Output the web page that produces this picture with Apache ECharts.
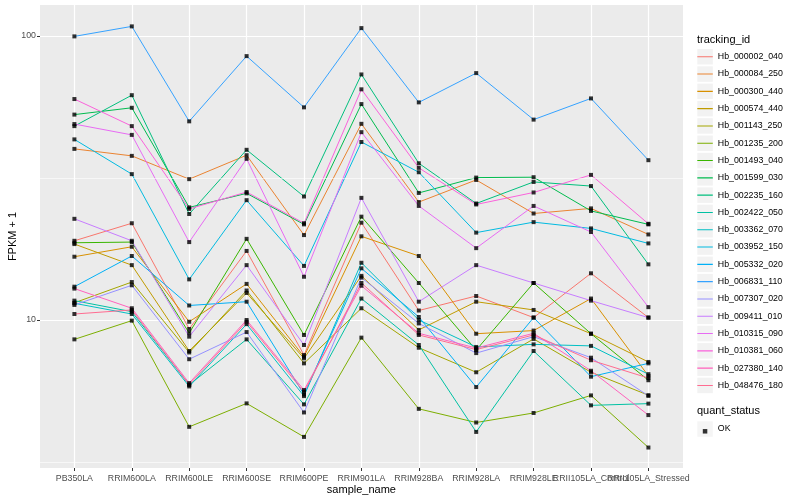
<!DOCTYPE html>
<html>
<head>
<meta charset="utf-8">
<script src="https://cdn.jsdelivr.net/npm/echarts@6/dist/echarts.min.js"></script>
<style>html,body{margin:0;padding:0;background:#fff;}#c{width:800px;height:500px;}</style>
</head>
<body>
<div id="c"></div>
<script>
const categories = ["PB350LA","RRIM600LA","RRIM600LE","RRIM600SE","RRIM600PE","RRIM901LA","RRIM928BA","RRIM928LA","RRIM928LE","RRII105LA_Control","RRII105LA_Stressed"];
const yTickLabels = [10, 100];

const hb_000002_040 = [19.0, 21.9, 9.30, 17.5, 7.53, 22.0, 10.8, 12.15, 10.2, 14.6, 10.2];
const hb_000084_250 = [40.0, 37.8, 31.3, 38.0, 19.9, 49.0, 26.0, 31.1, 23.7, 24.7, 20.0];
const hb_000300_440 = [16.7, 18.1, 9.86, 13.4, 7.43, 19.7, 16.8, 8.95, 9.18, 11.9, 6.36];
const hb_000574_440 = [18.5, 15.6, 7.78, 12.45, 7.33, 14.3, 9.23, 11.6, 10.85, 8.95, 7.12];
const hb_001143_250 = [11.5, 13.6, 7.69, 12.7, 7.04, 11.0, 7.99, 6.55, 8.58, 6.55, 5.44];
const hb_001235_200 = [8.55, 9.95, 4.21, 5.09, 3.88, 8.67, 4.87, 4.36, 4.71, 5.43, 3.56];
const hb_001493_040 = [18.7, 18.8, 9.0, 19.3, 8.86, 23.1, 13.5, 7.84, 13.5, 8.95, 6.14];
const hb_001599_030 = [52.8, 55.8, 24.9, 27.9, 21.7, 57.5, 28.0, 31.7, 31.8, 24.2, 21.7];
const hb_002235_160 = [48.1, 61.8, 23.6, 39.7, 27.2, 73.1, 35.6, 25.7, 30.6, 29.6, 15.7];
const hb_002422_050 = [11.7, 10.7, 5.92, 8.55, 5.05, 11.9, 8.17, 4.04, 7.78, 5.01, 5.08];
const hb_003362_070 = [11.45, 10.5, 5.84, 9.67, 5.40, 15.9, 10.0, 8.04, 8.21, 8.11, 6.45];
const hb_003952_150 = [43.2, 32.6, 13.9, 26.4, 15.5, 42.3, 33.1, 20.3, 22.1, 21.0, 18.6];
const hb_005332_020 = [13.1, 16.8, 11.25, 11.6, 5.47, 15.2, 10.25, 5.81, 10.2, 6.32, 7.04];
const hb_006831_110 = [99.5, 107.9, 50.0, 84.8, 56.0, 106.4, 58.3, 73.9, 50.7, 60.2, 36.5];
const hb_007307_020 = [11.3, 13.25, 7.28, 9.07, 4.73, 14.1, 9.73, 7.65, 8.74, 7.37, 5.41];
const hb_009411_010 = [22.7, 19.0, 8.74, 15.6, 8.17, 26.9, 11.6, 15.6, 13.5, 11.7, 10.2];
const hb_010315_090 = [48.9, 44.8, 18.8, 36.9, 14.2, 45.8, 25.2, 17.9, 25.2, 20.4, 11.1];
const hb_010381_060 = [59.9, 48.1, 24.6, 28.2, 21.9, 64.8, 34.3, 25.5, 28.1, 32.4, 21.8];
const hb_027380_140 = [12.9, 11.0, 6.0, 10.0, 5.67, 13.2, 8.98, 7.97, 8.98, 6.63, 4.63];
const hb_048476_180 = [10.5, 10.85, 5.92, 9.86, 5.58, 13.5, 8.86, 7.87, 8.86, 7.22, 6.25];

const trackingIds = ["Hb_000002_040","Hb_000084_250","Hb_000300_440","Hb_000574_440","Hb_001143_250","Hb_001235_200","Hb_001493_040","Hb_001599_030","Hb_002235_160","Hb_002422_050","Hb_003362_070","Hb_003952_150","Hb_005332_020","Hb_006831_110","Hb_007307_020","Hb_009411_010","Hb_010315_090","Hb_010381_060","Hb_027380_140","Hb_048476_180"];
const seriesValues = [hb_000002_040,hb_000084_250,hb_000300_440,hb_000574_440,hb_001143_250,hb_001235_200,hb_001493_040,hb_001599_030,hb_002235_160,hb_002422_050,hb_003362_070,hb_003952_150,hb_005332_020,hb_006831_110,hb_007307_020,hb_009411_010,hb_010315_090,hb_010381_060,hb_027380_140,hb_048476_180];
const colors = ["#F8766D","#EA8331","#D89000","#C09B00","#A3A500","#7CAE00","#39B600","#00BB4E","#00BF7D","#00C1A3","#00BFC4","#00BAE0","#00B0F6","#35A2FF","#9590FF","#C77CFF","#E76BF3","#FA62DB","#FF62BC","#FF6C91"];
const statusLabel = "OK";

const FONT = "'Liberation Sans', Arial, Helvetica, sans-serif";
const yMin = 3.016, yMax = 128.3;

const series = [];
series.push({
  name: '_minor', type: 'line', xAxisIndex: 0, yAxisIndex: 0, data: [], z: 1, silent: true,
  markLine: { silent: true, symbol: ['none','none'], label: {show: false}, animation: false,
    lineStyle: {color: '#ffffff', width: 0.6, type: 'solid'},
    data: [{yAxis: Math.sqrt(1000)}, {yAxis: Math.sqrt(10)}] }
});
trackingIds.forEach((id, i) => {
  series.push({
    name: id, type: 'line', xAxisIndex: 1, yAxisIndex: 1,
    data: seriesValues[i], showSymbol: false, symbol: 'none',
    lineStyle: {width: 1, color: colors[i]}, itemStyle: {color: colors[i]},
    z: 3, silent: true
  });
});
const okPoints = [];
seriesValues.forEach(arr => arr.forEach((v, j) => okPoints.push([j, v])));
series.push({
  name: statusLabel, type: 'scatter', xAxisIndex: 1, yAxisIndex: 1,
  data: okPoints, symbol: 'rect', symbolSize: 4, itemStyle: {color: '#000'}, z: 5, silent: true
});

const lineIcon = 'path://M0,0H16V0.005H0Z M0,7.45H16V8.55H0Z M0,15.995H16V16H0Z';
const commonLegend = {orient: 'vertical', left: 697.3, top: 49, itemWidth: 15.5, itemHeight: 15.5, itemGap: 1.8, padding: 0, selectedMode: false};

const option = {
  animation: false,
  backgroundColor: '#ffffff',
  textStyle: {fontFamily: FONT},
  title: [
    {text: 'tracking_id', left: 697, top: 34, padding: 0, textStyle: {fontSize: 11, fontWeight: 'normal', color: '#000', fontFamily: FONT}},
    {text: 'quant_status', left: 697, top: 405.5, padding: 0, textStyle: {fontSize: 11, fontWeight: 'normal', color: '#000', fontFamily: FONT}}
  ],
  legend: [
    Object.assign({}, commonLegend, {data: trackingIds, icon: 'rect', itemStyle: {color: '#F2F2F2', borderWidth: 0}, textStyle: {color: 'rgba(0,0,0,0)', fontSize: 8.8, fontFamily: FONT}, z: 1}),
    Object.assign({}, commonLegend, {data: trackingIds.map(n => ({name: n, icon: lineIcon})), symbolKeepAspect: true, itemStyle: {borderWidth: 0}, textStyle: {color: '#000', fontSize: 8.8, fontFamily: FONT}, z: 2}),
    Object.assign({}, commonLegend, {top: 421.3, data: [statusLabel], icon: 'rect', itemStyle: {color: '#F2F2F2', borderWidth: 0}, textStyle: {color: '#000', fontSize: 8.8, fontFamily: FONT}, z: 1}),
    Object.assign({}, commonLegend, {left: 697.3 + 5.5, top: 421.3 + 5.5, itemWidth: 4.5, itemHeight: 4.5, data: [statusLabel], icon: 'rect', itemStyle: {color: '#000', borderWidth: 0}, textStyle: {color: 'rgba(0,0,0,0)', fontSize: 8.8}, z: 2})
  ],
  grid: [
    {left: 40, right: 117, top: 5, bottom: 32, show: true, backgroundColor: '#EBEBEB', borderWidth: 0, z: -1, containLabel: false, outerBoundsMode: 'none'},
    {left: 74.4, right: 151.6, top: 5, bottom: 32, show: false, containLabel: false, outerBoundsMode: 'none'}
  ],
  xAxis: [
    {gridIndex: 0, type: 'value', min: 0, max: 1, show: false},
    {gridIndex: 1, type: 'category', data: categories, boundaryGap: false,
     axisLine: {show: false},
     axisTick: {show: true, length: 3, interval: 0, lineStyle: {color: '#333333', width: 1}},
     axisLabel: {interval: 0, color: '#4D4D4D', fontSize: 8.8, margin: 6.5, fontFamily: FONT},
     splitLine: {show: true, interval: 0, lineStyle: {color: '#ffffff', width: 1.2}},
     name: 'sample_name', nameLocation: 'middle', nameGap: 16, nameMoveOverlap: false,
     nameTextStyle: {fontSize: 11, color: '#000', fontFamily: FONT}}
  ],
  yAxis: [
    {gridIndex: 0, type: 'log', logBase: 10, min: yMin, max: yMax,
     axisLine: {show: false},
     axisTick: {show: true, length: 3, lineStyle: {color: '#333333', width: 1}},
     axisLabel: {showMinLabel: false, showMaxLabel: false, color: '#4D4D4D', fontSize: 8.8, margin: 4, fontFamily: FONT,
       formatter: v => { const r = Math.round(v); return (yTickLabels.indexOf(r) >= 0 && Math.abs(v - r) < 1e-6 * r) ? String(r) : ''; }},
     splitLine: {show: true, showMinLine: false, showMaxLine: false, lineStyle: {color: '#ffffff', width: 1.2}},
     name: 'FPKM + 1', nameLocation: 'middle', nameGap: 22, nameMoveOverlap: false,
     nameTextStyle: {fontSize: 11, color: '#000', fontFamily: FONT}},
    {gridIndex: 1, type: 'log', logBase: 10, min: yMin, max: yMax, show: false, splitLine: {show: false}}
  ],
  series: series
};
const chart = echarts.init(document.getElementById('c'), null, {renderer: 'canvas'});
chart.setOption(option);
</script>
</body>
</html>
